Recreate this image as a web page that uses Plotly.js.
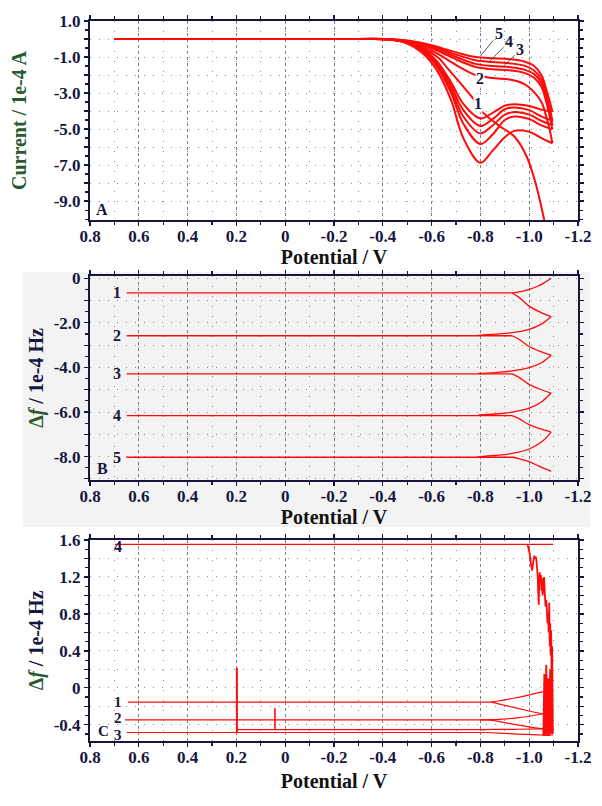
<!DOCTYPE html>
<html>
<head>
<meta charset="utf-8">
<script src="https://cdn.plot.ly/plotly-3.0.1.min.js"></script>
<style>html,body{margin:0;padding:0;background:#fff;}#chart{width:602px;height:806px;}</style>
</head>
<body>
<div id="chart"></div>
<script>
// ---------- shared potential axis ----------
const potTicks = [0.8, 0.6, 0.4, 0.2, 0, -0.2, -0.4, -0.6, -0.8, -1.0, -1.2];
const potTickText = ['0.8', '0.6', '0.4', '0.2', '0', '-0.2', '-0.4', '-0.6', '-0.8', '-1.0', '-1.2'];

// ---------- Panel A : current (1e-4 A) ----------
const aTicks = [1, 0, -1, -2, -3, -4, -5, -6, -7, -8, -9];
const aTickText = ['1.0', '', '-1.0', '', '-3.0', '', '-5.0', '', '-7.0', '', '-9.0'];
const aFwdX = [0.70, -0.30, -0.42, -0.50, -0.56, -0.62, -0.68, -0.73, -0.80, -0.85, -0.90, -0.94, -1.00, -1.05, -1.095];
const aFwd1 = [0, 0, -0.02, -0.16, -0.50, -1.20, -2.40, -3.60, -4.41, -4.10, -3.70, -3.62, -3.72, -3.92, -4.04];
const aFwd2 = [0, 0, -0.02, -0.18, -0.55, -1.30, -2.60, -3.95, -4.83, -4.45, -3.90, -3.80, -3.95, -4.30, -4.54];
const aFwd3 = [0, 0, -0.02, -0.20, -0.60, -1.40, -2.80, -4.30, -5.24, -4.80, -4.20, -4.05, -4.20, -4.55, -4.78];
const aFwd4 = [0, 0, -0.02, -0.22, -0.65, -1.50, -3.00, -4.70, -5.83, -5.30, -4.50, -4.30, -4.45, -4.80, -5.02];
const aFwd5 = [0, 0, -0.02, -0.25, -0.75, -1.70, -3.40, -5.50, -6.87, -6.20, -5.45, -5.10, -5.15, -5.50, -5.79];
const aRevX = [-1.095, -1.085, -1.07, -1.05, -1.02, -0.98, -0.92, -0.85, -0.78, -0.72, -0.66, -0.60, -0.54, -0.48, -0.40, -0.30];
const aRev5 = [-4.04, -3.50, -2.80, -2.00, -1.50, -1.25, -1.12, -1.07, -1.00, -0.82, -0.58, -0.35, -0.17, -0.06, 0, 0];
const aRev4 = [-4.54, -3.90, -3.10, -2.25, -1.75, -1.48, -1.35, -1.28, -1.18, -0.95, -0.68, -0.40, -0.20, -0.07, 0, 0];
const aRev3 = [-4.78, -4.10, -3.30, -2.45, -1.95, -1.70, -1.56, -1.50, -1.38, -1.10, -0.78, -0.46, -0.22, -0.08, 0, 0];
const aRevX4 = [-5.02, -4.35, -3.50, -2.65, -2.15, -1.88, -1.74, -1.68, -1.55, -1.25, -0.88, -0.52, -0.25, -0.09, 0, 0];
const aRev2 = [-5.79, -5.10, -4.30, -3.50, -2.95, -2.50, -2.25, -2.17, -2.00, -1.60, -1.10, -0.65, -0.30, -0.10, 0, 0];
const aFirstX = [0.70, -0.30, -0.42, -0.50, -0.57, -0.63, -0.67, -0.724, -0.77, -0.805, -0.873, -0.94, -0.99, -1.03, -1.07];
const aFirstY = [0, 0, -0.02, -0.20, -0.55, -1.07, -1.70, -2.55, -3.30, -4.00, -4.78, -5.43, -6.54, -8.20, -10.60];

// ---------- Panel B : frequency shift ----------
const bTicks = [0, -1, -2, -3, -4, -5, -6, -7, -8, -9];
const bTickText = ['0', '', '-2.0', '', '-4.0', '', '-6.0', '', '-8.0', ''];
const bLevels = [-0.66, -2.58, -4.29, -6.16, -8.03];
const bLevelX = [0.65, -0.93];
const bDownX = [-0.93, -0.96, -1.00, -1.045, -1.09];
const bDown1 = [-0.66, -0.87, -1.25, -1.52, -1.72];
const bDown2 = [-2.58, -2.75, -3.06, -3.28, -3.45];
const bDown3 = [-4.29, -4.46, -4.76, -4.98, -5.15];
const bDown4 = [-6.16, -6.31, -6.57, -6.75, -6.90];
const bDown5 = [-8.03, -8.10, -8.23, -8.45, -8.66];
const bUpX = [-0.93, -0.98, -1.037, -1.065, -1.09];
const bUp1 = [-0.66, -0.57, -0.35, -0.18, 0.0];
const bRetX = [-1.09, -1.05, -1.00, -0.93, -0.86, -0.79];
const bRet1 = [-1.72, -2.06, -2.29, -2.44, -2.51, -2.56];
const bRet2 = [-3.45, -3.79, -4.01, -4.16, -4.23, -4.27];
const bRet3 = [-5.15, -5.55, -5.83, -6.01, -6.09, -6.14];
const bRet4 = [-6.90, -7.35, -7.66, -7.86, -7.95, -8.01];

// ---------- Panel C : frequency shift ----------
const cTicks = [1.6, 1.4, 1.2, 1.0, 0.8, 0.6, 0.4, 0.2, 0, -0.2, -0.4];
const cTickText = ['1.6', '', '1.2', '', '0.8', '', '0.4', '', '0', '', '-0.4'];
const cLevel4X = [0.698, -1.098]; const cLevel4 = [1.553, 1.553];
const cLevel1X = [0.645, -0.845]; const cLevel1 = [-0.155, -0.155];
const cLevel2X = [0.657, -0.86]; const cLevel2 = [-0.346, -0.346];
const cLevel3X = [0.65, -0.82]; const cLevel3 = [-0.483, -0.483];
const cLevel3bX = [0.198, -0.82]; const cLevel3b = [-0.452, -0.452];
const cUp1X = [-0.845, -0.94, -1.057]; const cUp1 = [-0.155, -0.11, -0.04];
const cDown1X = [-0.845, -0.95, -1.057, -1.098]; const cDown1 = [-0.155, -0.22, -0.28, -0.28];
const cRet1X = [-1.057, -0.95, -0.86, -0.80]; const cRet1 = [-0.28, -0.325, -0.343, -0.346];
const cDown2X = [-0.84, -0.95, -1.057, -1.098]; const cDown2 = [-0.346, -0.40, -0.443, -0.443];
const cRet2X = [-1.057, -0.95, -0.86, -0.80]; const cRet2 = [-0.443, -0.448, -0.45, -0.452];
const cDown3X = [-0.82, -0.95, -1.057, -1.098]; const cDown3 = [-0.483, -0.50, -0.51, -0.51];
const cSpikeAX = [0.198, 0.198]; const cSpikeA = [-0.49, 0.216];
const cSpikeBX = [0.042, 0.042]; const cSpikeB = [-0.46, -0.22];
const cNoiseX = [-0.993,-0.998,-1.003,-1.006,-1.009,-1.012,-1.015,-1.018,-1.021,-1.024,-1.027,-1.030,-1.033,-1.035,-1.037,-1.039,-1.041,-1.043,-1.045,-1.048,-1.050,-1.052,-1.055,-1.058,-1.061,-1.064,-1.067,-1.070,-1.072,-1.075,-1.077,-1.080,-1.082,-1.084,-1.086,-1.088,-1.090,-1.092,-1.094,-1.096,-1.094,-1.090,-1.086,-1.082,-1.078,-1.074,-1.070,-1.066,-1.062,-1.058,-1.062,-1.066,-1.070,-1.074,-1.078,-1.082,-1.086,-1.090,-1.094,-1.097];
const cNoiseY = [1.555,1.50,1.44,1.36,1.30,1.27,1.33,1.41,1.43,1.40,1.42,1.37,1.28,1.20,1.05,0.90,1.12,1.25,1.18,1.22,1.05,1.19,1.00,1.16,1.20,1.02,0.88,0.95,0.78,0.70,0.80,0.60,0.92,0.45,0.70,0.35,0.62,0.05,0.40,-0.10,0.30,-0.30,0.20,-0.45,0.10,-0.52,0.00,-0.52,-0.10,-0.52,0.15,-0.52,0.25,-0.52,0.05,-0.52,0.10,-0.50,0.45,-0.50];

// ---------- build traces ----------
const RED = '#ff0a0a';
function tr(x, y, ax, w, shape) {
  return {x: x, y: y, xaxis: 'x' + ax, yaxis: 'y' + ax, type: 'scatter', mode: 'lines',
    line: {color: RED, width: w, shape: shape || 'spline', smoothing: 1}, hoverinfo: 'skip', showlegend: false};
}
const traces = [];
[aFwd1, aFwd2, aFwd3, aFwd4, aFwd5].forEach(y => traces.push(tr(aFwdX, y, '', 2)));
[aRev5, aRev4, aRev3, aRevX4, aRev2].forEach(y => traces.push(tr(aRevX, y, '', 2)));
traces.push(tr(aFirstX, aFirstY, '', 2));

bLevels.forEach(L => traces.push(tr(bLevelX, [L, L], '2', 1.3, 'linear')));
[bDown1, bDown2, bDown3, bDown4, bDown5].forEach(y => traces.push(tr(bDownX, y, '2', 1.3)));
traces.push(tr(bUpX, bUp1, '2', 1.3));
[bRet1, bRet2, bRet3, bRet4].forEach(y => traces.push(tr(bRetX, y, '2', 1.3)));

traces.push(tr(cLevel4X, cLevel4, '3', 1.2, 'linear'));
traces.push(tr(cLevel1X, cLevel1, '3', 1.2, 'linear'));
traces.push(tr(cLevel2X, cLevel2, '3', 1.2, 'linear'));
traces.push(tr(cLevel3X, cLevel3, '3', 1.2, 'linear'));
traces.push(tr(cLevel3bX, cLevel3b, '3', 1.2, 'linear'));
traces.push(tr(cUp1X, cUp1, '3', 1.2));
traces.push(tr(cDown1X, cDown1, '3', 1.2));
traces.push(tr(cRet1X, cRet1, '3', 1.2));
traces.push(tr(cDown2X, cDown2, '3', 1.2));
traces.push(tr(cRet2X, cRet2, '3', 1.2));
traces.push(tr(cDown3X, cDown3, '3', 1.2));
traces.push(tr(cSpikeAX, cSpikeA, '3', 2, 'linear'));
traces.push(tr(cSpikeBX, cSpikeB, '3', 1.6, 'linear'));
traces.push(tr(cNoiseX, cNoiseY, '3', 1.8, 'linear'));

// ---------- layout ----------
const FONT = 'Liberation Serif, Times New Roman, serif';
const NAVY = '#16163e';
const GREEN = '#2b5a2e';
function xAxis(anchor, standoff) {
  return {
    anchor: anchor, domain: [90 / 602, 578 / 602], range: [0.8, -1.2],
    tickmode: 'array', tickvals: potTicks, ticktext: potTickText,
    ticks: 'outside', ticklen: 4, tickwidth: 1.2, tickcolor: NAVY, ticklabelstandoff: -4,
    showline: true, linecolor: NAVY, linewidth: 2, mirror: 'ticks',
    showgrid: true, gridcolor: '#7f7f7f', griddash: 'dot', gridwidth: 1, zeroline: false,
    minor: {tickmode: 'linear', tick0: 0, dtick: 0.1, ticks: 'outside', ticklen: 3, tickcolor: NAVY,
      showgrid: true, gridcolor: '#8f8f8f', griddash: '1px,9px'},
    tickfont: {family: FONT, size: 17, color: NAVY, weight: 'bold'},
    title: {text: 'Potential / V', font: {family: FONT, size: 20, color: '#111', weight: 'bold'}, standoff: standoff}
  };
}
function yAxis(anchor, dom, range, tv, tt, minorDt, title, standoff) {
  return {
    anchor: anchor, domain: dom, range: range,
    tickmode: 'array', tickvals: tv, ticktext: tt,
    ticks: 'outside', ticklen: 4, tickwidth: 1.2, tickcolor: NAVY,
    showline: true, linecolor: NAVY, linewidth: 2, mirror: 'ticks',
    showgrid: true, gridcolor: '#8f8f8f', griddash: '1px,8px', gridwidth: 1, zeroline: false,
    minor: {tickmode: 'linear', tick0: 0, dtick: minorDt, ticks: 'outside', ticklen: 3, tickcolor: NAVY, showgrid: false},
    tickfont: {family: FONT, size: 17, color: NAVY, weight: 'bold'},
    title: {text: title, font: {family: FONT, size: 20, color: NAVY, weight: 'bold'}, standoff: standoff}
  };
}
const dfTitle = '<span style="color:' + GREEN + '">Δ<i>f</i></span> / 1e-4 Hz';

function lab(text, x, y, ax, size, extra) {
  return Object.assign({text: text, x: x, y: y, xref: 'x' + ax, yref: 'y' + ax, showarrow: false,
    font: {family: FONT, size: size || 16, color: NAVY, weight: 'bold'}}, extra || {});
}
function leader(text, hx, hy, tx, ty) {
  return {text: text, x: hx, y: hy, ax: tx, ay: ty, xref: 'x', yref: 'y', axref: 'x', ayref: 'y',
    showarrow: true, arrowhead: 0, arrowwidth: 0.8, arrowcolor: '#333', standoff: 0,
    font: {family: FONT, size: 16, color: NAVY, weight: 'bold'}};
}

const annotations = [
  leader('5', -0.80, -0.95, -0.875, 0.30),
  leader('4', -0.835, -1.27, -0.918, -0.15),
  leader('3', -0.89, -1.57, -0.963, -0.60),
  lab('2', -0.80, -2.18, '', 16, {bgcolor: '#ffffff', borderpad: 0}),
  lab('1', -0.79, -3.57, '', 16, {bgcolor: '#ffffff', borderpad: 0}),
  lab('A', 0.75, -9.44, ''),
  lab('1', 0.69, -0.66, '2'), lab('2', 0.69, -2.58, '2'), lab('3', 0.69, -4.29, '2'),
  lab('4', 0.69, -6.16, '2'), lab('5', 0.69, -8.03, '2'), lab('B', 0.748, -8.52, '2'),
  lab('4', 0.684, 1.528, '3'), lab('1', 0.684, -0.155, '3', 15), lab('2', 0.684, -0.33, '3', 15),
  lab('3', 0.684, -0.505, '3', 15), lab('C', 0.746, -0.472, '3', 15)
];

const layout = {
  width: 602, height: 806,
  margin: {l: 0, r: 0, t: 0, b: 0},
  paper_bgcolor: '#ffffff', plot_bgcolor: 'rgba(0,0,0,0)',
  showlegend: false,
  xaxis: xAxis('y', 0),
  yaxis: yAxis('x', [1 - 220 / 806, 1 - 21 / 806], [-10.05, 1.0], aTicks, aTickText, 0.5,
    '<span style="color:' + GREEN + '">Current / 1e-4 A</span>', 22),
  xaxis2: xAxis('y2', 0),
  yaxis2: yAxis('x2', [1 - 480 / 806, 1 - 276 / 806], [-9.05, 0.1], bTicks, bTickText, 0.5, dfTitle, 5),
  xaxis3: xAxis('y3', 8),
  yaxis3: yAxis('x3', [1 - 741 / 806, 1 - 540 / 806], [-0.575, 1.6], cTicks, cTickText, 0.1, dfTitle, 5),
  shapes: [{type: 'rect', xref: 'paper', yref: 'paper', x0: 23 / 602, x1: 590 / 602,
    y0: 1 - 527 / 806, y1: 1 - 272 / 806, fillcolor: '#f3f3f3', line: {width: 0}, layer: 'below'}],
  annotations: annotations
};

Plotly.newPlot('chart', traces, layout, {displayModeBar: false, staticPlot: true});
</script>
</body>
</html>
